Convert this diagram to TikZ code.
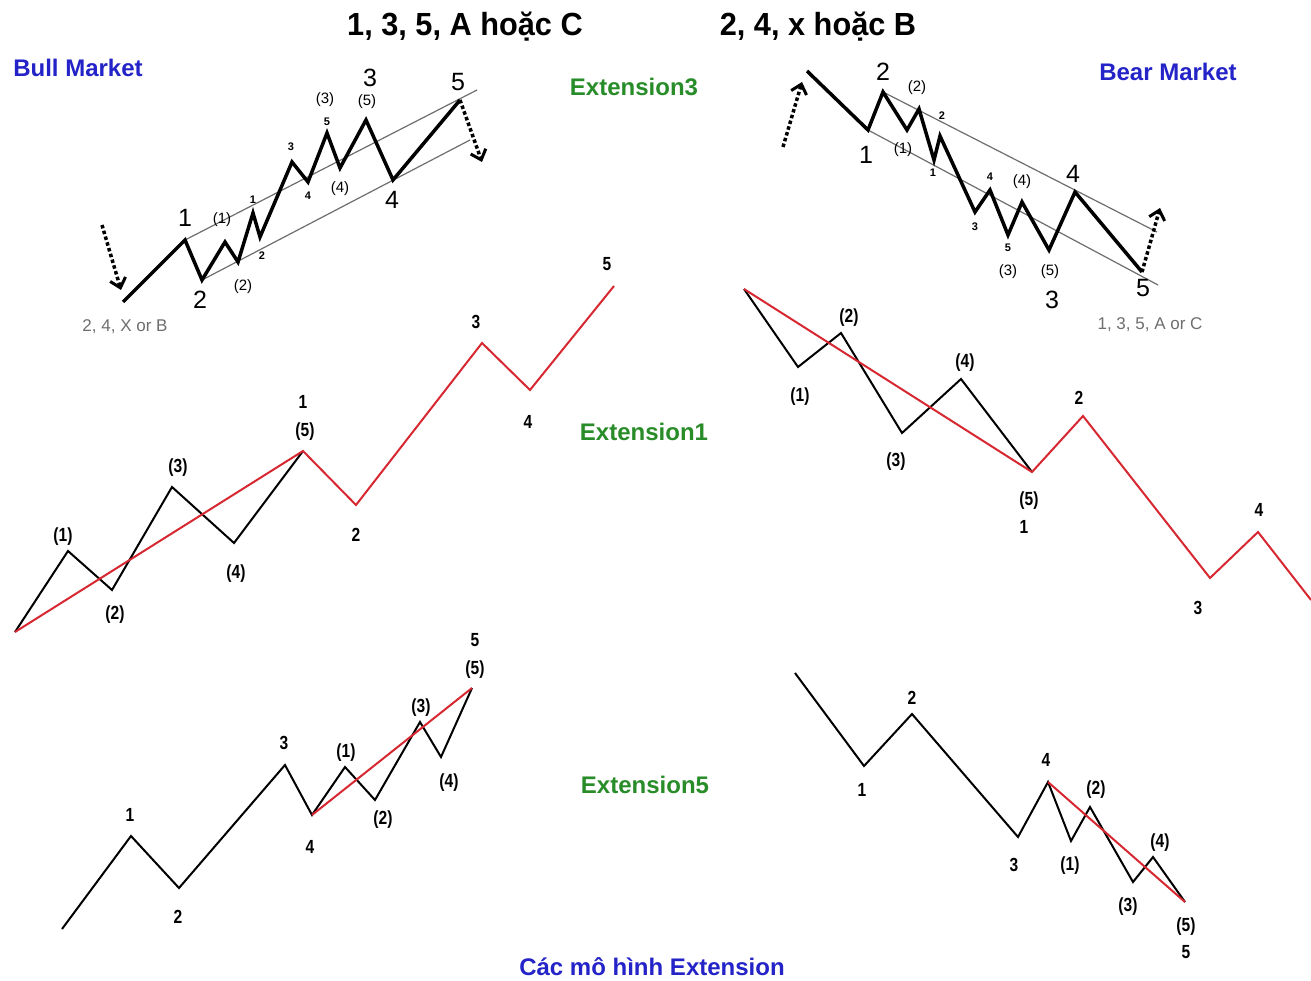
\documentclass[tikz,border=0pt]{standalone}
\usepackage{fontspec}
\setmainfont{Liberation Sans}
\newfontfamily\narrowfont[FakeStretch=0.82]{Liberation Sans}
\newfontfamily\headfont[FakeStretch=0.96]{Liberation Sans}
\usetikzlibrary{arrows.meta,positioning}
\definecolor{bullblue}{RGB}{35,35,200}
\definecolor{extgreen}{RGB}{40,140,40}
\definecolor{wavered}{RGB}{215,40,50}
\definecolor{changray}{RGB}{110,110,110}
\tikzset{
  leg/.style={black, line width=2pt},
  legred/.style={wavered, line width=2pt},
  legbold/.style={black, line width=3.5pt},
  channel/.style={changray, line width=1.2pt},
  turn/.style={-{Straight Barb[length=9pt,width=16pt,line width=3pt]}, line width=3.5pt, dash pattern=on 3.5pt off 2.5pt},
  title/.style={font=\headfont\bfseries\fontsize{32}{32}\selectfont},
  market/.style={font=\bfseries\fontsize{24}{24}\selectfont, text=bullblue},
  ext/.style={font=\bfseries\fontsize{24}{24}\selectfont, text=extgreen},
  wlbl/.style={font=\narrowfont\bfseries\fontsize{19}{19}\selectfont, inner sep=0pt},
  biglbl/.style={font=\fontsize{25}{25}\selectfont, inner sep=0pt},
  sublbl/.style={font=\fontsize{15}{15}\selectfont, inner sep=0pt},
  tinylbl/.style={font=\bfseries\fontsize{11}{11}\selectfont, inner sep=0pt},
  note/.style={font=\fontsize{17}{17}\selectfont, text=changray}
}

\begin{document}
\begin{tikzpicture}[x=1pt,y=-1pt]
  \useasboundingbox[fill=white] (0,0) rectangle (1311,981);

  % headings
  \node[title] (hUp) at (465,27) {1, 3, 5, A hoặc C};
  \node[title] (hDown) at (818,27) {2, 4, x hoặc B};
  \node[market] (bull) at (78,68) {Bull Market};
  \node[market] (bear) at (1168,72) {Bear Market};
  \node[ext] (ext3) at (634,87) {Extension3};
  \node[ext] (ext1) at (644,432) {Extension1};
  \node[ext] (ext5) at (645,785) {Extension5};
  \node[market] (caption) at (652,967) {Các mô hình Extension};

  % bull market, wave 3 extended
  \foreach \n/\x/\y in {0/123/302,1/185/240,2/202/280,3/225/242,4/238/262,
      5/253/213,6/260/237,7/292/162,8/308/182,9/327/133,
      10/340/168,11/366/120,12/393/180,13/460/100}
    \coordinate (b\n) at (\x,\y);
  \coordinate (bTop) at (477,90);
  \coordinate (bLow) at (470,140);
  \coordinate (bIn) at (102,225);
  \coordinate (bInEnd) at (121,290);
  \coordinate (bOut) at (482,162);
  \draw[channel] (b1) -- (bTop);
  \draw[channel] (b2) -- (bLow);
  \draw[legbold] (b0) -- (b1) -- (b2) -- (b3) -- (b4) -- (b5) -- (b6) -- (b7)
    -- (b8) -- (b9) -- (b10) -- (b11) -- (b12) -- (b13);
  \draw[turn] (bIn) -- (bInEnd);
  \draw[turn] (b13) -- (bOut);
  \node[biglbl] (bL1) at (185,218) {1};
  \node[biglbl] (bL2) at (200,300) {2};
  \node[sublbl] (bS1) at (222,220) {(1)};
  \node[sublbl] (bS2) at (243,287) {(2)};
  \node[tinylbl] (bT1) at (253,200) {1};
  \node[tinylbl] (bT2) at (262,256) {2};
  \node[tinylbl] (bT3) at (291,147) {3};
  \node[tinylbl] (bT4) at (308,196) {4};
  \node[tinylbl] (bT5) at (327,122) {5};
  \node[sublbl] (bS3) at (325,100) {(3)};
  \node[sublbl] (bS4) at (340,189) {(4)};
  \node[sublbl] (bS5) at (367,102) {(5)};
  \node[biglbl] (bL3) at (370,78) {3};
  \node[biglbl] (bL4) at (392,200) {4};
  \node[biglbl] (bL5) at (458,82) {5};
  \node[note] (bNote) at (125,327) {2, 4, X or B};

  % bear market, wave 3 extended
  \foreach \n/\x/\y in {0/807/71,1/868/130,2/883/92,3/907/130,4/919/109,
      5/934/160,6/940/136,7/975/212,8/990/190,9/1008/235,
      10/1022/202,11/1049/250,12/1075/192,13/1142/272}
    \coordinate (r\n) at (\x,\y);
  \coordinate (rTop) at (1157,232);
  \coordinate (rLow) at (1158,285);
  \coordinate (rIn) at (783,147);
  \coordinate (rInEnd) at (802,82);
  \coordinate (rOut) at (1160,208);
  \draw[channel] (r2) -- (rTop);
  \draw[channel] (r1) -- (rLow);
  \draw[legbold] (r0) -- (r1) -- (r2) -- (r3) -- (r4) -- (r5) -- (r6) -- (r7)
    -- (r8) -- (r9) -- (r10) -- (r11) -- (r12) -- (r13);
  \draw[turn] (rIn) -- (rInEnd);
  \draw[turn] (r13) -- (rOut);
  \node[biglbl] (rL2) at (883,72) {2};
  \node[sublbl] (rS2) at (917,88) {(2)};
  \node[tinylbl] (rT2) at (942,116) {2};
  \node[biglbl] (rL1) at (866,155) {1};
  \node[sublbl] (rS1) at (903,150) {(1)};
  \node[tinylbl] (rT1) at (933,173) {1};
  \node[tinylbl] (rT3) at (975,227) {3};
  \node[tinylbl] (rT4) at (990,177) {4};
  \node[sublbl] (rS4) at (1022,182) {(4)};
  \node[biglbl] (rL4) at (1073,174) {4};
  \node[tinylbl] (rT5) at (1008,248) {5};
  \node[sublbl] (rS3) at (1008,272) {(3)};
  \node[sublbl] (rS5) at (1050,272) {(5)};
  \node[biglbl] (rL3) at (1052,300) {3};
  \node[biglbl] (rL5) at (1143,288) {5};
  \node[note] (rNote) at (1150,325) {1, 3, 5, A or C};

  % extension 1, up
  \foreach \n/\x/\y in {0/15/632,1/68/551,2/112/590,3/172/487,4/234/543,
      5/303/451,6/356/505,7/482/343,8/530/390,9/614/286}
    \coordinate (m\n) at (\x,\y);
  \draw[leg] (m0) -- (m1) -- (m2) -- (m3) -- (m4) -- (m5);
  \draw[legred] (m0) -- (m5) -- (m6) -- (m7) -- (m8) -- (m9);
  \node[wlbl] (mS1) at (63,537) {(1)};
  \node[wlbl] (mS2) at (115,615) {(2)};
  \node[wlbl] (mS3) at (178,468) {(3)};
  \node[wlbl] (mS4) at (236,574) {(4)};
  \node[wlbl] (mS5) at (305,432) {(5)};
  \node[wlbl] (mL1) at (303,402) {1};
  \node[wlbl] (mL2) at (356,535) {2};
  \node[wlbl] (mL3) at (476,322) {3};
  \node[wlbl] (mL4) at (528,422) {4};
  \node[wlbl] (mL5) at (607,264) {5};

  % extension 1, down
  \foreach \n/\x/\y in {0/744/289,1/798/367,2/841/333,3/902/433,4/961/379,
      5/1032/472,6/1083/416,7/1210/578,8/1258/532,9/1311/600}
    \coordinate (n\n) at (\x,\y);
  \draw[leg] (n0) -- (n1) -- (n2) -- (n3) -- (n4) -- (n5);
  \draw[legred] (n0) -- (n5) -- (n6) -- (n7) -- (n8) -- (n9);
  \node[wlbl] (nS1) at (800,397) {(1)};
  \node[wlbl] (nS2) at (849,318) {(2)};
  \node[wlbl] (nS3) at (896,462) {(3)};
  \node[wlbl] (nS4) at (965,363) {(4)};
  \node[wlbl] (nS5) at (1029,501) {(5)};
  \node[wlbl] (nL1) at (1024,527) {1};
  \node[wlbl] (nL2) at (1079,398) {2};
  \node[wlbl] (nL3) at (1198,608) {3};
  \node[wlbl] (nL4) at (1259,510) {4};

  % extension 5, up
  \foreach \n/\x/\y in {0/62/929,1/131/836,2/179/888,3/285/765,4/312/815,
      5/345/767,6/375/800,7/420/722,8/441/757,9/472/688}
    \coordinate (p\n) at (\x,\y);
  \draw[leg] (p0) -- (p1) -- (p2) -- (p3) -- (p4) -- (p5) -- (p6) -- (p7) -- (p8) -- (p9);
  \draw[legred] (p4) -- (p9);
  \node[wlbl] (pL1) at (130,815) {1};
  \node[wlbl] (pL2) at (178,917) {2};
  \node[wlbl] (pL3) at (284,743) {3};
  \node[wlbl] (pL4) at (310,847) {4};
  \node[wlbl] (pS1) at (346,753) {(1)};
  \node[wlbl] (pS2) at (383,820) {(2)};
  \node[wlbl] (pS3) at (421,708) {(3)};
  \node[wlbl] (pS4) at (449,783) {(4)};
  \node[wlbl] (pS5) at (475,670) {(5)};
  \node[wlbl] (pL5) at (475,640) {5};

  % extension 5, down
  \foreach \n/\x/\y in {0/795/673,1/864/766,2/912/714,3/1018/837,4/1048/782,
      5/1071/841,6/1090/807,7/1133/882,8/1153/857,9/1185/902}
    \coordinate (q\n) at (\x,\y);
  \draw[leg] (q0) -- (q1) -- (q2) -- (q3) -- (q4) -- (q5) -- (q6) -- (q7) -- (q8) -- (q9);
  \draw[legred] (q4) -- (q9);
  \node[wlbl] (qL1) at (862,790) {1};
  \node[wlbl] (qL2) at (912,698) {2};
  \node[wlbl] (qL3) at (1014,865) {3};
  \node[wlbl] (qL4) at (1046,760) {4};
  \node[wlbl] (qS1) at (1070,866) {(1)};
  \node[wlbl] (qS2) at (1096,790) {(2)};
  \node[wlbl] (qS3) at (1128,907) {(3)};
  \node[wlbl] (qS4) at (1160,843) {(4)};
  \node[wlbl] (qS5) at (1186,927) {(5)};
  \node[wlbl] (qL5) at (1186,952) {5};
\end{tikzpicture}
\end{document}
